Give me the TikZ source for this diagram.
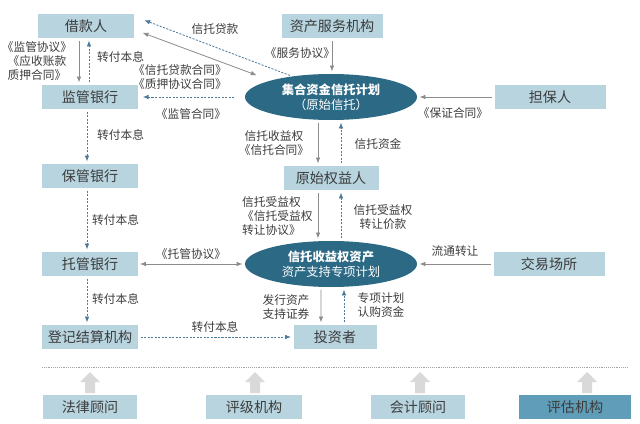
\documentclass[tikz,border=0pt]{standalone}
\usepackage{fontspec}
\setmainfont{Noto Sans CJK SC}
\usetikzlibrary{arrows.meta,shapes.geometric}
\definecolor{boxfill}{HTML}{B7D4DF}
\definecolor{darkfill}{HTML}{5F9DB8}
\definecolor{ovalfill}{HTML}{2B6985}
\definecolor{txtgray}{HTML}{3C3C3C}
\definecolor{arrgray}{HTML}{8C8C8C}
\definecolor{arrblue}{HTML}{4C7B9B}
\definecolor{blockgray}{HTML}{D9D9D9}

\begin{document}
\begin{tikzpicture}[x=0.03cm, y=-0.03cm,
    >={Latex[length=5pt,width=4pt]},
    box/.style={fill=boxfill, text=txtgray, inner sep=0pt, minimum height=0.72cm, font=\fontsize{12}{14}\selectfont},
    oval/.style={ellipse, fill=ovalfill, text=white, inner sep=0pt, minimum width=5.16cm, minimum height=1.38cm, align=center, font=\fontsize{10.5}{13}\selectfont},
    lbl/.style={text=txtgray, inner sep=0pt, align=center, font=\fontsize{10}{12}\selectfont},
    garr/.style={draw=arrgray, line width=0.7pt, shorten <=2pt, shorten >=2pt, ->},
    darr/.style={draw=arrblue, line width=0.7pt, dash pattern=on 1.8pt off 1.2pt, shorten <=2pt, shorten >=2pt, ->}
  ]
  \useasboundingbox (0,0) rectangle (640,424);

  % left column
  \node[box, minimum width=2.85cm] (jkr) at (86,26) {借款人};
  \node[box, minimum width=2.85cm] (jgyh) at (90,97) {监管银行};
  \node[box, minimum width=2.85cm] (bgyh) at (90,176) {保管银行};
  \node[box, minimum width=2.85cm] (tgyh) at (90,264) {托管银行};
  \node[box, minimum width=2.88cm] (djjs) at (90,337) {登记结算机构};

  % middle and right
  \node[box, minimum width=3.03cm] (zcfw) at (332,26) {资产服务机构};
  \node[oval] (jh1) at (331,97) {\textbf{集合资金信托计划}\\（原始信托）};
  \node[box, minimum width=3.33cm] (dbr) at (550,97) {担保人};
  \node[box, minimum width=2.85cm] (ysqy) at (331,178) {原始权益人};
  \node[oval] (jh2) at (331,264) {\textbf{信托收益权资产}\\资产支持专项计划};
  \node[box, minimum width=3.33cm] (jycs) at (549,264) {交易场所};
  \node[box, minimum width=2.49cm] (tzz) at (335,337) {投资者};

  % bottom row
  \foreach \n/\xx/\w/\t in {flgw/90/2.82/法律顾问, pjjg/254/2.88/评级机构, kjgw/418/2.82/会计顾问} {
    \node[box, minimum width=\w cm] (\n) at (\xx,407) {\t};
  }
  \node[box, fill=darkfill, minimum width=3.36cm] (pgjg) at (575,407) {评估机构};
  \foreach \xx in {90,255,420,587} {
    \fill[blockgray] (\xx-5,393) -- (\xx-5,382) -- (\xx-10,382) -- (\xx,372) -- (\xx+10,382) -- (\xx+5,382) -- (\xx+5,393) -- cycle;
  }
  \draw[arrgray!80, line width=0.6pt, dash pattern=on 0.6pt off 1pt] (42,367) -- (628,367);

  % connectors, left part
  \draw[darr] (jh1.152) -- ([xshift=0.25cm,yshift=0.2cm]jkr.east);
  \draw[garr, <->] ([xshift=0.2cm,yshift=-0.18cm]jkr.east) -- ([xshift=0.42cm,yshift=0.63cm]jh1.west);
  \draw[darr] ([xshift=-0.24cm]jh1.west) -- ([xshift=0.08cm]jgyh.east);
  \draw[garr] ([xshift=-0.21cm]jkr.south) -- ([xshift=-0.33cm]jgyh.north);
  \draw[darr] ([xshift=-0.03cm]jgyh.north) -- ([xshift=0.09cm]jkr.south);
  \foreach \a/\b in {jgyh/bgyh, bgyh/tgyh, tgyh/djjs} {
    \draw[darr] ([xshift=-0.09cm]\a.south) -- ([xshift=-0.09cm]\b.north);
  }
  \draw[garr, <->] (tgyh.east) -- (jh2.west);
  \draw[darr] (djjs.east) -- (tzz.west);

  % connectors, middle part
  \draw[garr] (zcfw.south) -- (zcfw.south |- jh1.north);
  \draw[garr] (dbr.west) -- (jh1.east);
  \draw[garr] ([xshift=-0.39cm]jh1.south) -- ([xshift=-0.39cm]ysqy.north);
  \draw[darr] ([xshift=0.3cm]ysqy.north) -- ([xshift=0.3cm]jh1.south);
  \draw[garr] ([xshift=-0.39cm]ysqy.south) -- ([xshift=-0.39cm]jh2.north);
  \draw[darr] ([xshift=0.3cm]jh2.north) -- ([xshift=0.3cm]ysqy.south);
  \draw[garr] (jycs.west) -- (jh2.east);
  \draw[garr] ([xshift=-0.3cm]jh2.south) -- ([xshift=-0.42cm]tzz.north);
  \draw[darr] ([xshift=0.27cm]tzz.north) -- ([xshift=0.39cm]jh2.south);

  % labels
  \node[lbl] (xtdk) at (215,29) {信托贷款};
  \node[lbl] (jgxy) at (37,61) {《监管协议》\\《应收账款\\质押合同》};
  \foreach \i/\xx/\yy in {1/97/57, 2/97/135, 3/92/220, 4/92/299} {
    \node[lbl, anchor=west] (zfbx\i) at (\xx,\yy) {转付本息};
  }
  \node[lbl] (dkht) at (180,77) {《信托贷款合同》\\《质押协议合同》};
  \node[lbl] (jght) at (191,114) {《监管合同》};
  \node[lbl] (fwxy) at (300,53) {《服务协议》};
  \node[lbl] (bzht) at (453,113) {《保证合同》};
  \node[lbl] (xtht) at (274,143) {信托收益权\\《信托合同》};
  \node[lbl] (xtzj) at (378,144) {信托资金};
  \node[lbl, anchor=west, align=left] (zrxy) at (242,216) {信托受益权\\《信托受益权\\转让协议》};
  \node[lbl] (zrjk) at (383,217) {信托受益权\\转让价款};
  \node[lbl] (tgxy) at (191,254) {《托管协议》};
  \node[lbl] (ltzr) at (455,251) {流通转让};
  \node[lbl] (fxzq) at (286,307) {发行资产\\支持证券};
  \node[lbl] (rgzj) at (381,305) {专项计划\\认购资金};
  \node[lbl] (zfbx5) at (215,327) {转付本息};
\end{tikzpicture}
\end{document}
